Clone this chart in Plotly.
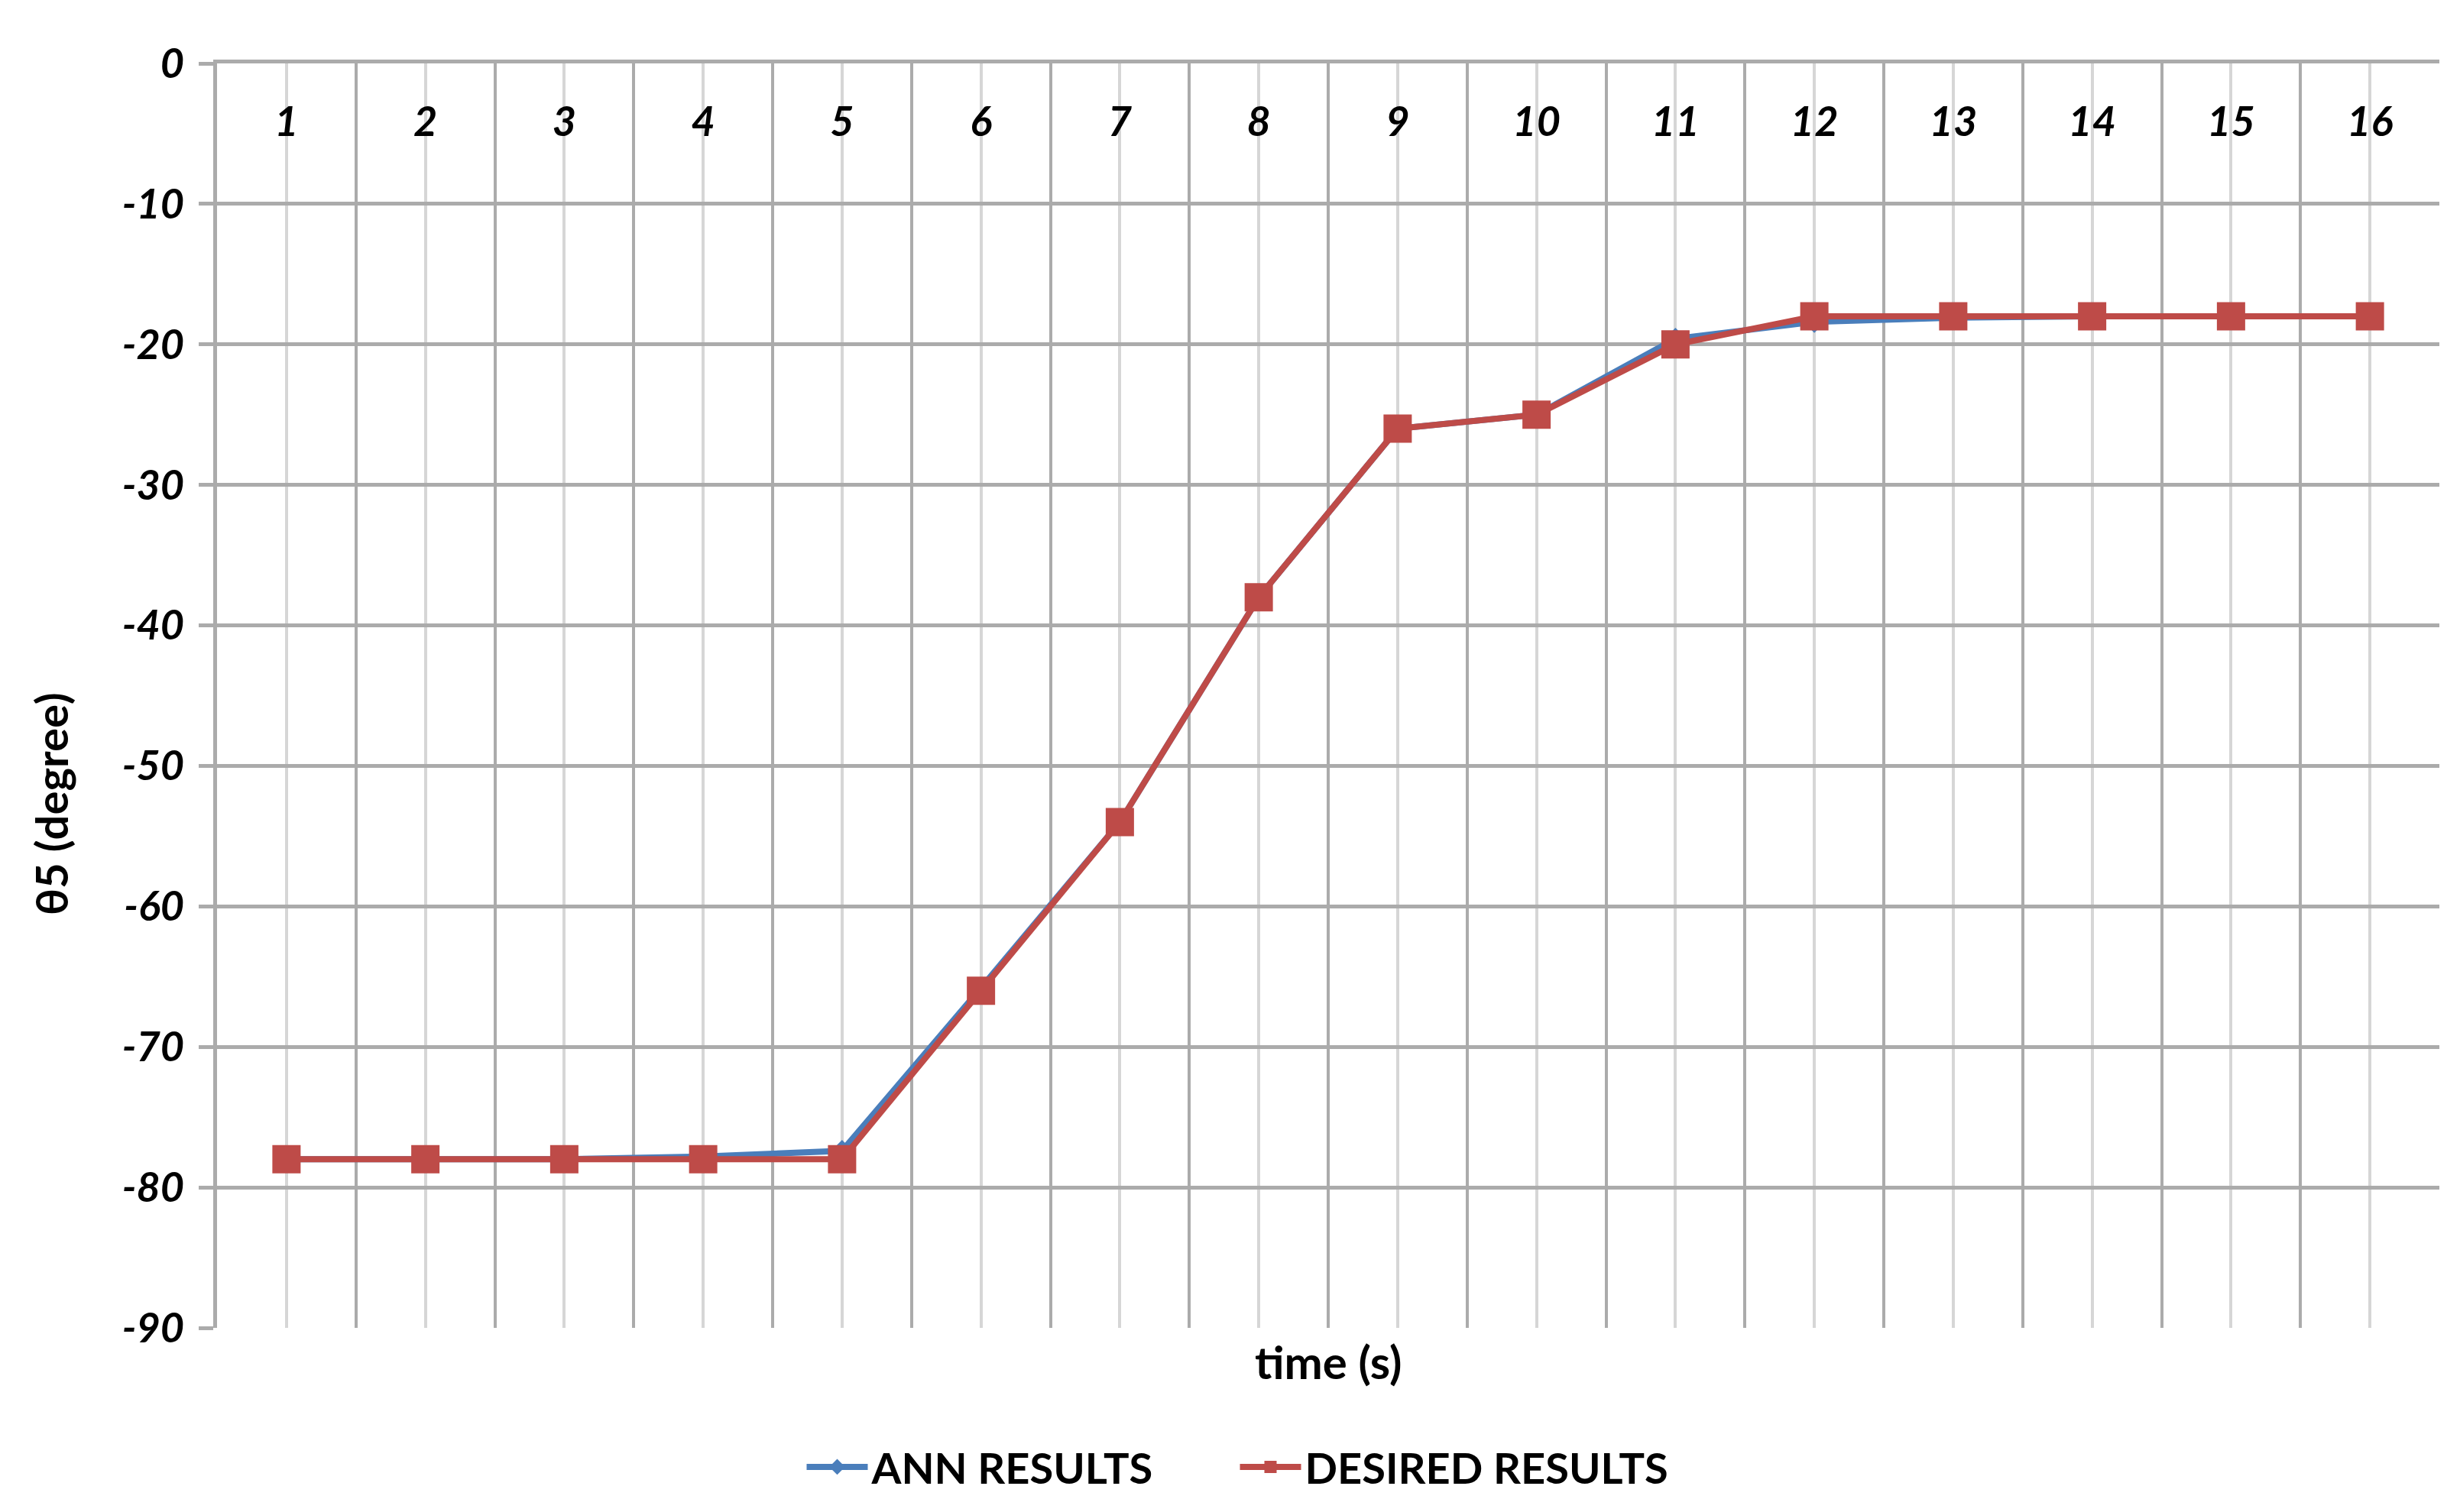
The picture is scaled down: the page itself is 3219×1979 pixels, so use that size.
import plotly.graph_objects as go

# ---- data ----
time_s = list(range(1, 17))
x_tick_labels = [str(t) for t in time_s]
ann_results = [-78, -78, -78, -77.8, -77.4, -65.8, -54, -38, -26, -25, -19.6, -18.4, -18.1, -18, -18, -18]
desired_results = [-78, -78, -78, -78, -78, -66, -54, -38, -26, -25, -20, -18, -18, -18, -18, -18]
y_tick_values = [0, -10, -20, -30, -40, -50, -60, -70, -80, -90]
y_tick_labels = ["0", "-10", "-20", "-30", "-40", "-50", "-60", "-70", "-80", "-90"]
category_bounds = [t + 0.5 for t in range(0, 17)]

W, H = 3219, 1979
L, R, T, B = 276, 35, 75, 249

FONT = "Lato"
GRID_MAJOR = "#ababab"
GRID_MINOR = "#d6d6d6"
BLUE = "#4A7EBB"
RED = "#BE4B48"
TICKFONT = dict(family=FONT, size=54, color="black", weight="bold", style="italic")

fig = go.Figure()
fig.add_trace(go.Scatter(
    x=time_s, y=ann_results, name="ANN RESULTS", mode="lines+markers",
    line=dict(color=BLUE, width=8),
    marker=dict(symbol="diamond", size=22, color=BLUE),
))
fig.add_trace(go.Scatter(
    x=time_s, y=desired_results, name="DESIRED RESULTS", mode="lines+markers",
    line=dict(color=RED, width=8),
    marker=dict(symbol="square", size=37, color=RED),
))
# carrier for the category label axis (draws nothing)
fig.add_trace(go.Scatter(
    x=time_s, y=[None] * len(time_s), xaxis="x2", mode="lines",
    showlegend=False, hoverinfo="skip",
))

fig.update_layout(
    width=W, height=H,
    margin=dict(l=L, r=R, t=T, b=B, autoexpand=False),
    paper_bgcolor="white", plot_bgcolor="white",
    showlegend=True,
    legend=dict(
        orientation="h", xref="container", yref="container",
        x=0.5, xanchor="center", y=1 - 1912 / H, yanchor="middle",
        font=dict(family=FONT, size=56, color="black", weight="bold"),
        itemwidth=80, entrywidth=472, entrywidthmode="pixels", tracegroupgap=0,
    ),
    xaxis=dict(
        range=[0.5, 16.5], side="top",
        tickmode="array", tickvals=time_s, showticklabels=False,
        ticks="",
        showgrid=True, gridcolor=GRID_MINOR, gridwidth=4,
        minor=dict(tickmode="array", tickvals=category_bounds, showgrid=True,
                   gridcolor=GRID_MAJOR, gridwidth=4, ticks=""),
        showline=True, linecolor=GRID_MAJOR, linewidth=5,
        zeroline=False, fixedrange=True,
    ),
    xaxis2=dict(
        range=[0.5, 16.5], overlaying="x", anchor="free", position=1, side="bottom",
        tickmode="array", tickvals=time_s, ticktext=x_tick_labels,
        ticks="", ticklabelstandoff=40, tickfont=TICKFONT,
        showgrid=False, showline=False, zeroline=False, fixedrange=True,
    ),
    yaxis=dict(
        range=[-90, 0],
        tickmode="array", tickvals=y_tick_values, ticktext=y_tick_labels,
        ticks="outside", ticklen=19, tickwidth=5, tickcolor=GRID_MAJOR,
        ticklabelstandoff=8,
        tickfont=TICKFONT,
        showgrid=True, gridcolor=GRID_MAJOR, gridwidth=5,
        showline=True, linecolor=GRID_MAJOR, linewidth=5,
        zeroline=False, fixedrange=True,
    ),
)

fig.add_annotation(
    text="time (s)", xref="paper", yref="paper", x=0.5, y=0,
    xanchor="center", yanchor="middle", yshift=-44, showarrow=False,
    font=dict(family=FONT, size=60, color="black", weight="bold"),
)
fig.add_annotation(
    text="θ5 (degree)", xref="paper", yref="paper", x=0, y=(H - B - 1044) / (H - T - B),
    xanchor="center", yanchor="middle", xshift=58 - L, textangle=-90, showarrow=False,
    font=dict(family=FONT, size=58, color="black", weight="bold"),
)

fig.write_html("out.html")
